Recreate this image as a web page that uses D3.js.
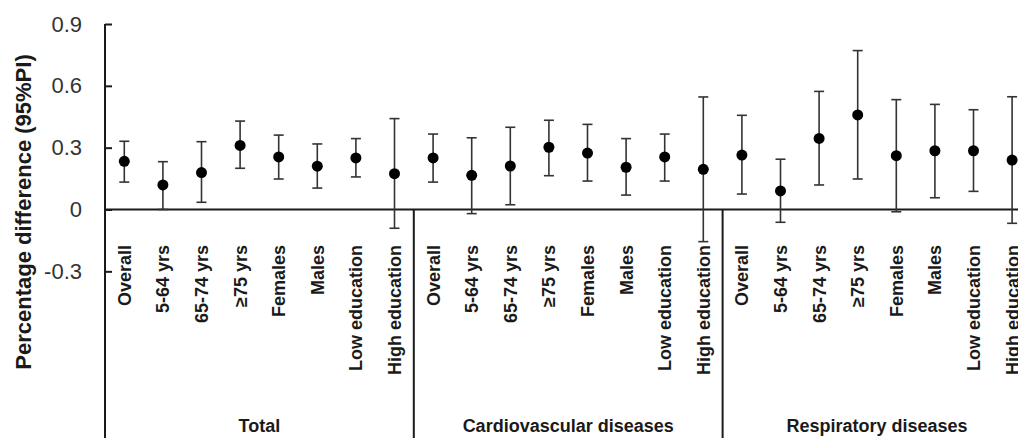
<!DOCTYPE html>
<html>
<head>
<meta charset="utf-8">
<script src="https://cdn.jsdelivr.net/npm/d3@7/dist/d3.min.js"></script>
<style>
  html, body { margin: 0; padding: 0; background: #fff; }
  svg { display: block; font-family: "Liberation Sans", Arial, sans-serif; }
</style>
</head>
<body>
<svg id="chart" width="1018" height="438"></svg>
<script>
const groups = ["Total", "Cardiovascular diseases", "Respiratory diseases"];
const subgroups = ["Overall", "5-64 yrs", "65-74 yrs", "\u226575 yrs", "Females", "Males", "Low education", "High education"];

const estTotal = [0.234, 0.119, 0.179, 0.311, 0.255, 0.210, 0.250, 0.174];
const lowTotal = [0.133, 0.000, 0.035, 0.200, 0.148, 0.104, 0.158, -0.091];
const highTotal = [0.331, 0.232, 0.329, 0.429, 0.361, 0.318, 0.344, 0.441];

const estCardio = [0.250, 0.166, 0.211, 0.302, 0.274, 0.205, 0.255, 0.195];
const lowCardio = [0.133, -0.020, 0.023, 0.164, 0.138, 0.070, 0.138, -0.156];
const highCardio = [0.366, 0.348, 0.399, 0.433, 0.413, 0.344, 0.366, 0.546];

const estResp = [0.264, 0.090, 0.345, 0.459, 0.261, 0.285, 0.285, 0.240];
const lowResp = [0.075, -0.062, 0.119, 0.148, -0.011, 0.057, 0.088, -0.067];
const highResp = [0.457, 0.244, 0.573, 0.771, 0.533, 0.510, 0.484, 0.547];

const yTickValues = [-0.3, 0, 0.3, 0.6, 0.9];
const yTickLabels = ["-0.3", "0", "0.3", "0.6", "0.9"];

const estimates = [estTotal, estCardio, estResp];
const lows = [lowTotal, lowCardio, lowResp];
const highs = [highTotal, highCardio, highResp];

const rows = [];
groups.forEach((g, gi) => {
  subgroups.forEach((s, si) => {
    rows.push({ key: gi + "|" + si, group: g, gi, label: s,
      est: estimates[gi][si], lo: lows[gi][si], hi: highs[gi][si] });
  });
});

const W = 1018, H = 438;
const left = 105;
const bandW = 38.6;
const svg = d3.select("#chart");

const x = d3.scaleBand().domain(rows.map(d => d.key))
  .range([left, left + bandW * rows.length]).padding(0);
const y = d3.scaleLinear().domain([0, 0.9]).range([209.5, 24]);

const ink = "#1a1a1a";

// Y axis
const yAxis = d3.axisLeft(y).tickValues(yTickValues)
  .tickFormat((d, i) => yTickLabels[i])
  .tickSizeInner(-7).tickSizeOuter(0).tickPadding(23);
const ya = svg.append("g").attr("transform", `translate(${left},0)`).call(yAxis);
ya.select(".domain").remove();
ya.selectAll(".tick line").attr("stroke", ink).attr("stroke-width", 2);
ya.selectAll(".tick text").attr("fill", "#333").style("font-size", "22px");

// vertical axis line to bottom
svg.append("line").attr("x1", left).attr("x2", left)
  .attr("y1", y(0.9)).attr("y2", H).attr("stroke", ink).attr("stroke-width", 2);

// zero line
svg.append("line").attr("x1", left).attr("x2", W)
  .attr("y1", y(0)).attr("y2", y(0)).attr("stroke", ink).attr("stroke-width", 2);

// group separators
groups.forEach((g, gi) => {
  if (gi === 0) return;
  const sx = x(gi + "|0");
  svg.append("line").attr("x1", sx).attr("x2", sx)
    .attr("y1", y(0)).attr("y2", H).attr("stroke", ink).attr("stroke-width", 2);
});

// error bars
const cap = 5;
const eb = svg.append("g").attr("stroke", "#333").attr("stroke-width", 1.6);
rows.forEach(d => {
  const cx = x(d.key) + x.bandwidth() / 2;
  eb.append("line").attr("x1", cx).attr("x2", cx).attr("y1", y(d.lo)).attr("y2", y(d.hi));
  eb.append("line").attr("x1", cx - cap).attr("x2", cx + cap).attr("y1", y(d.lo)).attr("y2", y(d.lo));
  eb.append("line").attr("x1", cx - cap).attr("x2", cx + cap).attr("y1", y(d.hi)).attr("y2", y(d.hi));
});

// points
svg.append("g").selectAll("circle").data(rows).join("circle")
  .attr("cx", d => x(d.key) + x.bandwidth() / 2)
  .attr("cy", d => y(d.est))
  .attr("r", 5.5).attr("fill", "#000");

// category labels
svg.append("g").selectAll("text").data(rows).join("text")
  .attr("transform", d => `translate(${x(d.key) + x.bandwidth() / 2},245) rotate(-90)`)
  .attr("text-anchor", "end").attr("dy", "0.36em")
  .attr("fill", ink).style("font-size", "18px").style("font-weight", "bold")
  .text(d => d.label);

// group labels
svg.append("g").selectAll("text").data(groups).join("text")
  .attr("x", (g, gi) => {
    const a = x(gi + "|0"), b = x(gi + "|" + (subgroups.length - 1)) + x.bandwidth();
    return (a + b) / 2;
  })
  .attr("y", 432).attr("text-anchor", "middle")
  .attr("fill", ink).style("font-size", "18px").style("font-weight", "bold")
  .text(g => g);

// y title
svg.append("text").attr("transform", "translate(31,212) rotate(-90)")
  .attr("text-anchor", "middle").attr("fill", ink)
  .style("font-size", "22px").style("font-weight", "bold")
  .text("Percentage difference (95%PI)");
</script>
</body>
</html>
